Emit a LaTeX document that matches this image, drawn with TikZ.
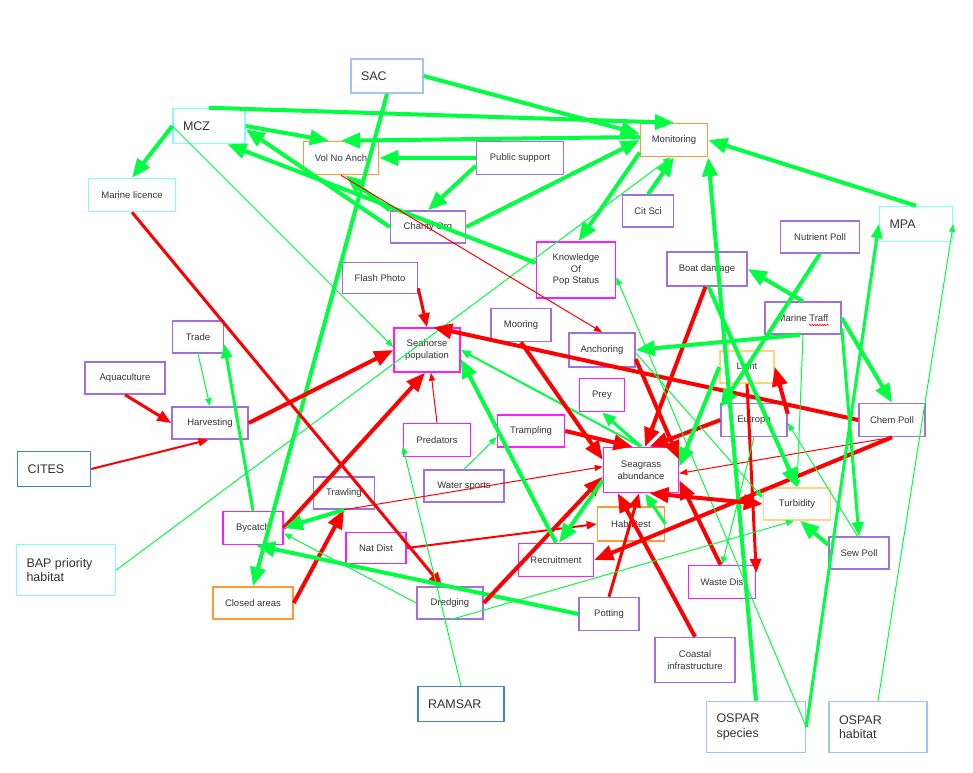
\documentclass[tikz,border=0pt]{standalone}
\usepackage{fontspec}
\setmainfont{Liberation Sans}
\usetikzlibrary{arrows.meta,decorations.pathmorphing}
\definecolor{posg}{HTML}{00FF40}
\definecolor{negr}{HTML}{FF0000}
\definecolor{purp}{HTML}{A070DC}
\definecolor{magen}{HTML}{FF1AFF}
\definecolor{orng}{HTML}{FF9933}
\definecolor{pale}{HTML}{FFD480}
\definecolor{cyn}{HTML}{80FFFF}
\definecolor{lblue}{HTML}{A4C2F4}
\definecolor{dblue}{HTML}{3D85C6}
\definecolor{txt}{HTML}{333333}
\tikzset{Bigtip/.tip={Triangle[length=19pt,width=15pt]}}
\begin{document}
\begin{tikzpicture}[x=1pt,y=-1pt,
  box/.style={draw,line width=1.5pt,minimum height=32pt,inner sep=1pt,align=center,text=txt,font=\fontsize{9.5}{11.5}\selectfont},
  pbox/.style={box,draw=purp}, mbox/.style={box,draw=magen}, obox/.style={box,draw=orng},
  ybox/.style={box,draw=pale}, cbox/.style={box,draw=cyn},
  big/.style={draw,line width=1.5pt,align=flush left,inner xsep=10pt,text=txt,font=\fontsize{12.5}{14.5}\selectfont},
  cbig/.style={big,draw=cyn}, lbig/.style={big,draw=lblue}, bbig/.style={big,draw=dblue},
  gline/.style={color=posg}, rline/.style={color=negr},
  strong/.style={line width=4pt,-Bigtip},
  mod/.style={line width=3pt,-{Triangle[length=14pt,width=11pt]}},
  weak/.style={line width=2pt,-{Triangle[length=10pt,width=8pt]}},
  faint/.style={line width=1pt,-{Triangle[length=8pt,width=6pt]}}]
  \useasboundingbox (0,0) rectangle (973,772);
  \node[lbig,text width=52pt,minimum height=34pt] (sac) at (387,76) {SAC};
  \node[cbig,text width=52pt,minimum height=35pt] (mcz) at (209,126) {MCZ};
  \node[cbox,minimum width=87pt,minimum height=33pt] (mlic) at (132,195) {Marine licence};
  \node[obox,minimum width=75pt,minimum height=33pt] (vol) at (341,158) {Vol No Anch};
  \node[pbox,minimum width=87pt,minimum height=33pt] (pub) at (520,158) {Public support};
  \node[pbox,minimum width=75pt] (char) at (428,227) {Charity Org};
  \node[obox,minimum width=67pt,minimum height=33pt] (mon) at (674,140) {Monitoring};
  \node[pbox,minimum width=51pt] (cit) at (648,211) {Cit Sci};
  \node[mbox,minimum width=79pt,minimum height=56pt] (know) at (576,270) {Knowledge\\Of\\Pop Status};
  \node[pbox,minimum width=75pt,minimum height=31pt] (flash) at (380,278) {Flash Photo};
  \node[cbig,text width=53pt,minimum height=35pt] (mpa) at (916,224) {MPA};
  \node[pbox,minimum width=79pt] (nut) at (820,237) {Nutrient Poll};
  \node[pbox,minimum width=80pt,minimum height=34pt] (boat) at (707,269) {Boat damage};
  \node[pbox,minimum width=76pt] (traff) at (803,318) {Marine Traff};
  \node[pbox,minimum width=51pt] (trade) at (198,337) {Trade};
  \node[pbox,minimum width=80pt] (aqua) at (125,378) {Aquaculture};
  \node[pbox,minimum width=76pt] (harv) at (210,423) {Harvesting};
  \node[bbig,text width=53pt,minimum height=35pt] (cites) at (54,469) {CITES};
  \node[mbox,minimum width=66pt,minimum height=44pt] (sea) at (427,350) {Seahorse\\population};
  \node[pbox,minimum width=60pt,minimum height=33pt] (moor) at (521,325) {Mooring};
  \node[pbox,minimum width=66pt,minimum height=34pt] (anch) at (602,350) {Anchoring};
  \node[mbox,minimum width=45pt,minimum height=33pt] (prey) at (602,395) {Prey};
  \node[mbox,minimum width=67pt] (tramp) at (531,431) {Trampling};
  \node[mbox,minimum width=67pt,minimum height=33pt] (pred) at (437,440) {Predators};
  \node[pbox,minimum width=80pt] (water) at (464,486) {Water sports};
  \node[mbox,minimum width=75pt,minimum height=45pt] (grass) at (641,470) {Seagrass\\abundance};
  \node[ybox,minimum width=54pt] (light) at (747,367) {Light};
  \node[pbox,minimum width=66pt,minimum height=33pt] (eut) at (754,420) {Eutroph};
  \node[pbox,minimum width=66pt,minimum height=33pt] (chem) at (892,420) {Chem Poll};
  \node[ybox,minimum width=67pt] (turb) at (797,504) {Turbidity};
  \node[pbox,minimum width=60pt] (sew) at (859,553) {Sew Poll};
  \node[obox,minimum width=67pt,minimum height=34pt] (hab) at (631,524) {Hab Rest};
  \node[mbox,minimum width=75pt,minimum height=33pt] (recr) at (556,560) {Recruitment};
  \node[mbox,minimum width=60pt,minimum height=31pt] (nat) at (376,548) {Nat Dist};
  \node[pbox,minimum width=61pt] (trawl) at (344,493) {Trawling};
  \node[mbox,minimum width=60pt,minimum height=33pt] (by) at (253,528) {Bycatch};
  \node[obox,minimum width=80pt] (closed) at (253,603) {Closed areas};
  \node[pbox,minimum width=66pt] (dredge) at (450,603) {Dredging};
  \node[pbox,minimum width=60pt,minimum height=33pt] (pot) at (609,614) {Potting};
  \node[mbox,minimum width=67pt,minimum height=33pt] (waste) at (722,582) {Waste Dis};
  \node[pbox,minimum width=80pt,minimum height=45pt] (coast) at (695,660) {Coastal\\infrastructure};
  \node[bbig,text width=66pt,minimum height=35pt] (ramsar) at (461,704) {RAMSAR};
  \node[lbig,text width=79pt,minimum height=51pt] (ospsp) at (756,727) {OSPAR\\species};
  \node[lbig,text width=78pt,minimum height=51pt] (osphab) at (878,727) {OSPAR\\habitat};
  \node[cbig,text width=79pt,minimum height=51pt] (bap) at (66,570) {BAP priority\\habitat};
  \draw[negr,line width=0.6pt,decorate,decoration={snake,amplitude=0.7pt,segment length=2.5pt}]
    ([xshift=6pt,yshift=-7pt]traff.center) -- ([xshift=26pt,yshift=-7pt]traff.center);

  \draw[gline,strong] (mcz.west) -- (mlic.north);
  \draw[gline,strong] (mcz.north) -- (mon.north);
  \draw[gline,strong] (sac.east) -- (mon.170);
  \draw[gline,strong] (mon.175) -- (vol.north);
  \draw[gline,strong] (mcz.east) -- (vol.125);
  \draw[gline,strong] (char.west) -- (mcz.-5);
  \draw[gline,strong] (know.170) -- (mcz.-45);
  \draw[gline,strong] (char.north west) -- (vol.-75);
  \draw[gline,strong] (pub.west) -- (vol.east);
  \draw[gline,strong] (pub.190) -- (char.north);
  \draw[gline,strong] (char.east) -- (mon.west);
  \draw[gline,strong] (mon.200) -- (know.85);
  \draw[gline,strong] (cit.north) -- (mon.south);
  \draw[gline,faint] (bap.east) -- (mon.-100);
  \draw[gline,strong] (mpa.north) -- (mon.east);
  \draw[gline,strong] (sac.south) -- (closed.north);
  \draw[gline,faint] (mcz.west) -- (sea.175);
  \draw[rline,faint] (vol.south) -- (anch.north);
  \draw[rline,mod] (flash.-15) -- (sea.north);
  \draw[rline,mod] (mlic.south) -- (dredge.115);
  \draw[rline,mod] (aqua.south) -- (harv.west);
  \draw[gline,faint] (trade.south) -- (harv.north);
  \draw[gline,mod] (by.north) -- (trade.-15);
  \draw[rline,weak] (cites.east) -- (harv.-95);
  \draw[rline,strong] (harv.east) -- (sea.west);
  \draw[rline,strong] (by.east) -- (sea.-95);
  \draw[rline,strong] (closed.east) -- (trawl.south);
  \draw[gline,strong] (trawl.south) -- (by.east);
  \draw[gline,strong] (pot.west) -- (by.-80);
  \draw[gline,faint] (dredge.west) -- (by.-10);
  \draw[rline,faint] (trawl.south) -- (grass.175);
  \draw[rline,weak] (nat.east) -- (hab.west);
  \draw[rline,strong] (dredge.east) -- (grass.190);
  \draw[gline,strong] (grass.195) -- (recr.80);
  \draw[gline,strong] (recr.north) -- (sea.-15);
  \draw[gline,weak] (grass.north) -- (sea.east);
  \draw[gline,mod] (grass.north) -- (prey.south);
  \draw[gline,faint] (water.north) -- (tramp.190);
  \draw[rline,strong] (tramp.east) -- (grass.110);
  \draw[rline,strong] (moor.south) -- (grass.165);
  \draw[rline,strong] (chem.west) -- (sea.75);
  \draw[rline,faint] (chem.south) -- (grass.-5);
  \draw[rline,strong] (chem.south) -- (recr.east);
  \draw[rline,strong] (anch.-15) -- (grass.15);
  \draw[rline,strong] (boat.-95) -- (grass.80);
  \draw[rline,strong] (eut.west) -- (grass.70);
  \draw[rline,strong] (eut.10) -- (light.east);
  \draw[rline,mod] (light.south) -- (waste.15);
  \draw[gline,strong] (boat.-85) -- (turb.north);
  \draw[gline,faint] (traff.south) -- (turb.north);
  \draw[gline,strong] (nut.south) -- (eut.160);
  \draw[gline,strong] (light.west) -- (grass.5);
  \draw[gline,strong] (traff.north) -- (boat.east);
  \draw[gline,strong] (traff.-100) -- (anch.east);
  \draw[gline,strong] (traff.east) -- (chem.north);
  \draw[gline,mod] (traff.-15) -- (sew.north);
  \draw[gline,strong] (sew.165) -- (turb.-80);
  \draw[gline,faint] (sew.95) -- (eut.-5);
  \draw[gline,faint] (anch.-5) -- (turb.170);
  \draw[gline,faint] (ospsp.east) -- (know.-10);
  \draw[gline,mod] (ospsp.east) -- (mpa.west);
  \draw[gline,strong] (ospsp.north) -- (mon.south east);
  \draw[gline,faint] (osphab.north) -- (mpa.east);
  \draw[gline,faint] (eut.south) -- (waste.north);
  \draw[gline,mod] (hab.east) -- (grass.-80);
  \draw[rline,line width=4pt,Bigtip-Bigtip] (grass.-70) -- (turb.west);
  \draw[rline,mod] (pot.north) -- (grass.-95);
  \draw[rline,strong] (coast.north) -- (grass.-135);
  \draw[rline,strong] (waste.95) -- (grass.-15);
  \draw[gline,faint] (ramsar.north) -- (pred.190);
  \draw[rline,faint] (pred.north) -- (sea.-80);
  \draw[gline,faint] (dredge.south) -- (turb.-100);
\end{tikzpicture}
\end{document}
